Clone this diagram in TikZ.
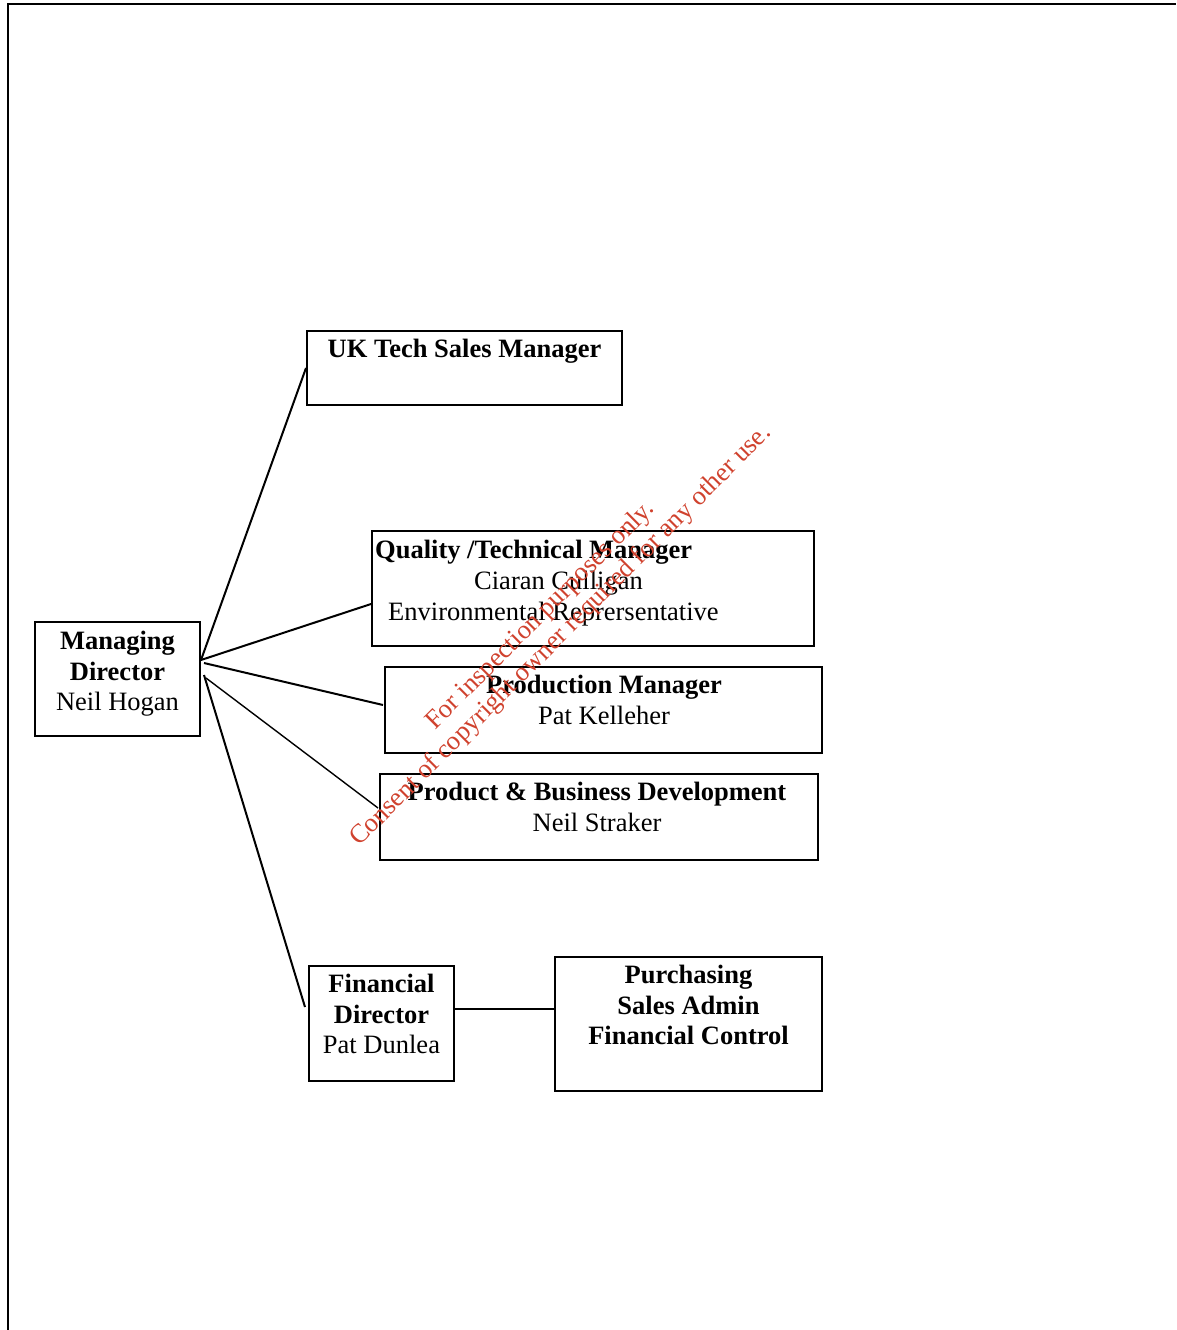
\documentclass[tikz,border=0pt]{standalone}
\usepackage{fontspec}
\setmainfont{Liberation Serif}
\definecolor{stampred}{RGB}{208,66,46}
\tikzset{
  orgbox/.style={draw, line width=2pt, inner sep=0pt},
  orgtext/.style={font=\fontsize{26.5}{30.5}\selectfont, inner sep=0pt, align=center, anchor=north},
  link/.style={line width=2pt},
}

\begin{document}
\begin{tikzpicture}[x=1pt,y=-1pt]
  \useasboundingbox (0,0) rectangle (1176,1330);
  % page frame, top and left only
  \draw[line width=2.5pt] (8,1330) -- (8,4) -- (1176,4);

  %% the boxes
  \node[orgbox, minimum width=165pt, minimum height=114pt] (md)   at (117.5,679)  {};
  \node[orgbox, minimum width=315pt, minimum height=74pt]  (uk)   at (464.5,368)  {};
  \node[orgbox, minimum width=442pt, minimum height=115pt] (qual) at (593,588.5)  {};
  \node[orgbox, minimum width=437pt, minimum height=86pt]  (prod) at (603.5,710)  {};
  \node[orgbox, minimum width=438pt, minimum height=86pt]  (pbd)  at (599,817)    {};
  \node[orgbox, minimum width=145pt, minimum height=115pt] (fin)  at (381.5,1023.5) {};
  \node[orgbox, line width=2.6pt, minimum width=267pt, minimum height=134pt] (pur) at (688.5,1024) {};

  %% the texts
  \node[orgtext] (mdtxt) at (117.5,631) {\textbf{Managing}\\\textbf{Director}\\Neil Hogan};
  \node[orgtext] (uktxt) at (464.5,339) {\textbf{UK Tech Sales Manager}};
  \node[orgtext, align=left, anchor=north west, font=\fontsize{26.5}{31}\selectfont] (qualtxt) at (375,540)
    {\textbf{Quality /Technical Manager}\\\hspace*{99pt}Ciaran Culligan\\\hspace*{13pt}Environmental Reprersentative};
  \node[orgtext] (prodtxt) at (604,675) {\textbf{Production Manager}\\Pat Kelleher};
  \node[orgtext] (pbdtxt) at (597,782) {\textbf{Product \& Business Development}\\Neil Straker};
  \node[orgtext] (fintxt) at (381.5,974) {\textbf{Financial}\\\textbf{Director}\\Pat Dunlea};
  \node[orgtext] (purtxt) at (688.5,965) {\textbf{Purchasing}\\\textbf{Sales Admin}\\\textbf{Financial Control}};

  %% the links
  \draw[link] ([yshift=19pt]md.east) -- (uk.west);
  \draw[link] ([yshift=19pt]md.east) -- ([yshift=-15.5pt]qual.west);
  \draw[link] ([xshift=3pt,yshift=16pt]md.east) -- ([xshift=-1pt,yshift=5pt]prod.west);
  \draw[link, line width=1.4pt] ([xshift=5pt,yshift=1pt]md.east) -- ([xshift=-1pt,yshift=9pt]pbd.west);
  \draw[link] ([xshift=3pt,yshift=4pt]md.east) -- ([xshift=-3pt,yshift=16.5pt]fin.west);
  \draw[link] ([yshift=14.5pt]fin.east) -- ([yshift=15pt]pur.west);

  % stamp across the middle
  \node[font=\fontsize{26.5}{28.5}\selectfont, text=stampred, rotate=45, align=center, inner sep=0pt] (stamp) at (551,626)
    {For inspection purposes only.\\Consent of copyright owner required for any other use.};
\end{tikzpicture}
\end{document}
